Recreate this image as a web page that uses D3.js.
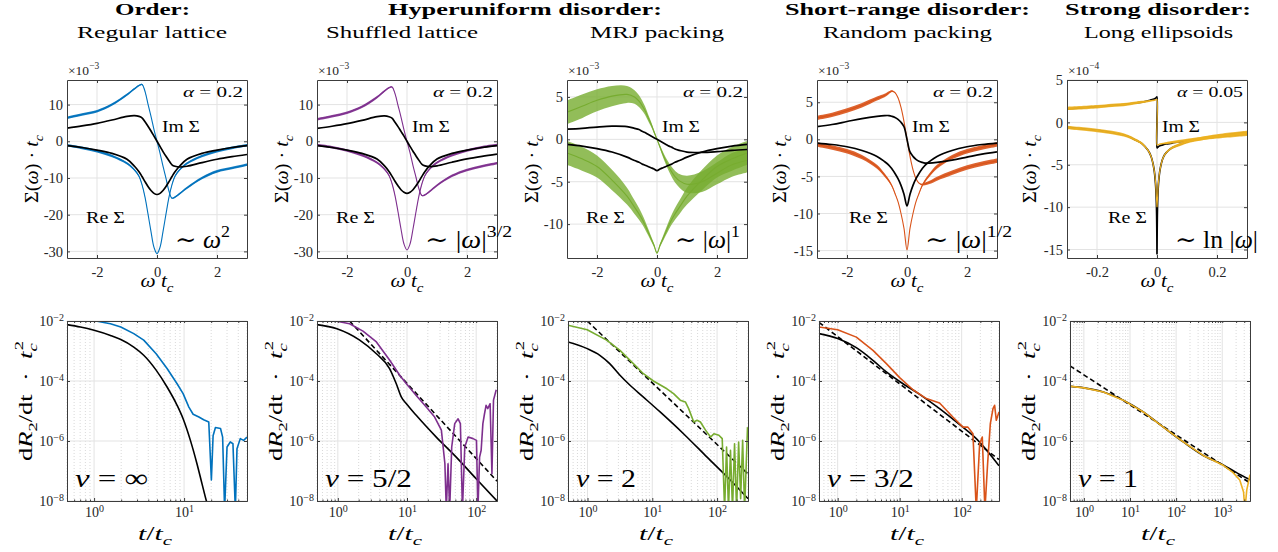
<!DOCTYPE html>
<html><head><meta charset="utf-8">
<script src="https://cdn.jsdelivr.net/npm/d3@7/dist/d3.min.js"></script>
<style>html,body{margin:0;padding:0;background:#fff;}svg{display:block;}</style>
</head><body>
<script>
// ================= DATA =================
const groupTitles = ["Order:", "Hyperuniform disorder:", "Short-range disorder:", "Strong disorder:"];
const subTitles = ["Regular lattice", "Shuffled lattice", "MRJ packing", "Random packing", "Long ellipsoids"];

// top row: self-energy vs omega*t_c
const omegaGrid = [-3,-2.5,-2,-1.5,-1,-0.75,-0.6,-0.5,-0.4,-0.3,-0.2,-0.1,0,0.1,0.2,0.3,0.4,0.5,0.6,0.75,1,1.5,2,2.5,3];
const omegaTicks = [-2,0,2];

const latticeImSim = [6.4,7.3,8.2,10.0,12.7,14.3,15.2,15.5,13.6,10.1,6.8,3.2,0,-3.2,-6.8,-10.1,-13.6,-15.5,-15.2,-14.3,-12.7,-10.0,-8.2,-7.3,-6.4];
const latticeReSim = [-1.1,-1.8,-2.7,-4.0,-6.0,-7.8,-9.5,-11.8,-15.2,-19.8,-24.6,-28.9,-30.6,-28.9,-24.6,-19.8,-15.2,-11.8,-9.5,-7.8,-6.0,-4.0,-2.7,-1.8,-1.1];
const latticeImTh = [3.6,4.2,4.9,5.8,6.8,7.0,6.8,6.4,5.3,4.1,2.8,1.4,0,-1.4,-2.8,-4.1,-5.3,-6.4,-6.8,-7.0,-6.8,-5.8,-4.9,-4.2,-3.6];
const latticeReTh = [-1.2,-1.7,-2.4,-3.3,-4.9,-6.8,-8.3,-9.6,-11.0,-12.3,-13.4,-14.2,-14.5,-14.2,-13.4,-12.3,-11.0,-9.6,-8.3,-6.8,-4.9,-3.3,-2.4,-1.7,-1.2];
const latticeNoise = [0.35,0.35,0.35,0.35,0.32,0.28,0.22,0.15,0.08,0.04,0,0,0,0,0,0.04,0.08,0.15,0.22,0.28,0.32,0.35,0.35,0.35,0.35];
const latticeYTicks = [-30,-20,-10,0,10];

const shuffledImSim = [6.0,6.8,7.8,9.4,12.0,13.7,14.6,14.8,13.0,9.8,6.6,3.1,0,-3.1,-6.6,-9.8,-13.0,-14.8,-14.6,-13.7,-12.0,-9.4,-7.8,-6.8,-6.0];
const shuffledReSim = [-1.0,-1.6,-2.5,-3.8,-5.8,-7.6,-9.3,-11.5,-14.8,-19.2,-23.9,-28.0,-29.6,-28.0,-23.9,-19.2,-14.8,-11.5,-9.3,-7.6,-5.8,-3.8,-2.5,-1.6,-1.0];
const shuffledImTh = [3.5,4.1,4.8,5.7,6.7,6.9,6.7,6.3,5.2,4.0,2.7,1.4,0,-1.4,-2.7,-4.0,-5.2,-6.3,-6.7,-6.9,-6.7,-5.7,-4.8,-4.1,-3.5];
const shuffledReTh = [-1.2,-1.7,-2.4,-3.3,-4.8,-6.7,-8.2,-9.5,-10.9,-12.1,-13.2,-13.9,-14.2,-13.9,-13.2,-12.1,-10.9,-9.5,-8.2,-6.7,-4.8,-3.3,-2.4,-1.7,-1.2];
const shuffledNoise = [0.35,0.35,0.35,0.35,0.32,0.28,0.22,0.15,0.08,0.04,0,0,0,0,0,0.04,0.08,0.15,0.22,0.28,0.32,0.35,0.35,0.35,0.35];
const shuffledYTicks = [-30,-20,-10,0,10];

const mrjImSim = [3.2,3.9,4.6,5.1,5.3,5.0,4.5,4.0,3.4,2.6,1.8,0.9,0,-0.9,-1.8,-2.6,-3.3,-3.9,-4.4,-4.9,-5.3,-5.0,-4.0,-3.0,-2.5];
const mrjReSim = [-1.6,-2.3,-3.2,-4.8,-6.7,-8.0,-8.8,-9.4,-10.1,-10.9,-11.7,-12.5,-13.4,-12.5,-11.7,-10.9,-10.1,-9.4,-8.8,-8.0,-6.7,-4.8,-3.2,-2.3,-1.6];
const mrjImTh = [1.2,1.3,1.45,1.55,1.5,1.3,1.15,0.95,0.8,0.6,0.4,0.2,0,-0.2,-0.4,-0.6,-0.8,-0.95,-1.15,-1.3,-1.5,-1.55,-1.45,-1.3,-1.2];
const mrjReTh = [-0.6,-0.8,-1.1,-1.5,-2.1,-2.5,-2.7,-2.9,-3.05,-3.2,-3.35,-3.5,-3.7,-3.5,-3.35,-3.2,-3.05,-2.9,-2.7,-2.5,-2.1,-1.5,-1.1,-0.8,-0.6];
const mrjNoise = [1.4,1.4,1.3,1.2,1.0,0.8,0.7,0.6,0.5,0.4,0.3,0.2,0.1,0.2,0.3,0.4,0.5,0.6,0.7,0.8,1.0,1.2,1.3,1.4,1.4];
const mrjYTicks = [-10,-5,0,5];

const randImSim = [2.9,3.3,3.9,4.6,5.5,5.9,6.3,6.5,6.3,5.6,4.3,2.4,0,-2.3,-4.1,-5.3,-5.9,-6.1,-6.0,-5.8,-5.3,-4.5,-3.8,-3.3,-2.9];
const randReSim = [-0.7,-1.1,-1.6,-2.4,-3.7,-4.8,-5.6,-6.3,-7.3,-8.4,-10.0,-12.0,-14.9,-12.0,-10.0,-8.4,-7.3,-6.3,-5.6,-4.8,-3.7,-2.4,-1.6,-1.1,-0.7];
const randImTh = [1.7,2.0,2.4,2.8,3.1,3.2,3.2,3.1,2.95,2.7,2.3,1.7,0,-1.7,-2.3,-2.7,-2.95,-3.1,-3.2,-3.2,-3.1,-2.8,-2.4,-2.0,-1.7];
const randReTh = [-0.5,-0.7,-1.0,-1.5,-2.3,-3.0,-3.5,-4.0,-4.6,-5.3,-6.2,-7.4,-9.0,-7.4,-6.2,-5.3,-4.6,-4.0,-3.5,-3.0,-2.3,-1.5,-1.0,-0.7,-0.5];
const randNoise = [0.3,0.3,0.3,0.3,0.27,0.23,0.18,0.12,0.06,0.03,0,0,0,0,0,0.03,0.06,0.12,0.18,0.23,0.27,0.3,0.3,0.3,0.3];
const randYTicks = [-15,-10,-5,0,5];

const omegaEll = [-0.3,-0.2,-0.15,-0.1,-0.07,-0.05,-0.03,-0.02,-0.01,-0.005,-0.002,0,0,0.002,0.005,0.01,0.02,0.03,0.05,0.07,0.1,0.15,0.2,0.3];
const omegaEllTicks = [-0.2,0,0.2];
const ellImSim = [1.65,1.85,2.0,2.15,2.3,2.4,2.5,2.55,2.6,2.65,2.7,2.7,-2.7,-2.65,-2.6,-2.55,-2.5,-2.45,-2.35,-2.25,-2.1,-1.9,-1.7,-1.4];
const ellReSim = [-0.6,-0.95,-1.2,-1.6,-2.1,-2.5,-3.3,-4.0,-5.5,-7.0,-8.8,-10.0,-10.0,-8.8,-7.0,-5.6,-4.2,-3.6,-3.0,-2.7,-2.3,-1.9,-1.6,-1.2];
const ellImTh = [1.6,1.85,2.0,2.15,2.3,2.4,2.55,2.65,2.75,2.85,2.95,3.0,-3.0,-2.95,-2.85,-2.75,-2.65,-2.55,-2.45,-2.3,-2.15,-1.9,-1.7,-1.4];
const ellReTh = [-0.6,-0.95,-1.2,-1.6,-2.1,-2.5,-3.3,-4.0,-5.5,-7.2,-9.5,-15.5,-15.5,-9.5,-7.2,-5.6,-4.2,-3.6,-3.0,-2.7,-2.3,-1.9,-1.6,-1.2];
const ellNoise = [0.2,0.2,0.2,0.18,0.17,0.15,0.12,0.09,0.06,0.03,0,0,0,0,0.03,0.06,0.09,0.12,0.15,0.17,0.18,0.2,0.2,0.2];
const ellYTicks = [-15,-10,-5,0,5];

const alphaLabels = ["0.2","0.2","0.2","0.2","0.05"];
const scaleExponents = ["−3","−3","−3","−3","−4"];

// bottom row: dR2/dt * tc^2 vs t/tc
const rateYTicks = [1e-8,1e-6,1e-4,1e-2];
const latticeT = [0.9,1.08,1.52,1.98,2.76,3.56,4.89,6.47,8.36,9.75,11.3,12.6,14.6,16.5,18.8,20.1,21.0,22.3,25.4,26.8,28.2,30.0,32.6,34.9,37.1,38.7,42.1,45.9,50];
const latticeRate = [1.1e-2,9.8e-3,8.1e-3,6.3e-3,3.8e-3,2.3e-3,8.1e-4,2.6e-4,8.1e-5,3.8e-5,1.35e-5,7.8e-6,6.3e-6,5.1e-6,4.3e-6,5e-8,1.5e-6,2.8e-6,2.6e-6,1.35e-6,5e-9,6.3e-7,9.3e-7,8.1e-7,5e-9,5.5e-7,1.2e-6,1.05e-6,1.35e-6];
const latticeThT = [0.5,0.705,1,1.52,1.98,2.76,3.56,4.89,6.47,8.36,9.75,11.75,13.9,15.8,17.7,19];
const latticeThRate = [7.6e-3,6.3e-3,4.9e-3,3.3e-3,2.4e-3,1.35e-3,7.2e-4,2.3e-4,6.3e-5,1.55e-5,5.5e-6,1.05e-6,1.75e-7,3.8e-8,1e-8,5e-9];

const shuffledT = [0.9,0.97,1.48,2.31,3.61,5.63,7.84,9.8,13.6,19.0,25.1,31.4,35.3,37.0,39.2,41.4,44.3,49.0,54.8,59.1,63.3,68.4,76.5,90.3,101,106,112,118,125,132,139,147,159,169,178,195];
const shuffledRate = [1.1e-2,9.8e-3,8.1e-3,4.6e-3,2.0e-3,4.9e-4,1.55e-4,8.1e-5,3.3e-5,1.35e-5,6.3e-6,2.3e-6,1.75e-7,5e-9,1.75e-7,5e-9,6.3e-7,3.8e-6,5.5e-6,3.8e-6,5e-9,6.3e-7,1.35e-6,1.2e-6,1.05e-6,5e-9,2.9e-7,4.9e-7,3.8e-6,8.1e-6,1.55e-5,1.2e-5,1.75e-5,8.1e-8,2.3e-5,5.1e-5];
const shuffledThT = [0.5,0.97,2.07,3.61,5.6,7.0,8.3,9.8,13.6,26.5,51.5,100,200];
const shuffledThRate = [7.6e-3,5.5e-3,2.3e-3,8.1e-4,2.6e-4,8.1e-5,2.9e-5,1.75e-5,7.2e-6,1.35e-6,2.9e-7,5.5e-8,1.0e-8];
const shuffledFitT = [1.48,200];
const shuffledFitRate = [1e-2,4.6e-8];

const mrjT = [0.5,0.99,1.97,3.17,5.1,7.3,10.4,16.8,21.3,27.0,32.4,36.4,43.6,49.1,55.3,66.3,79.3,89.3,106.6,120,130.6,140,150,161,173,186,200,215,231,248,266,295];
const mrjRate = [7.2e-3,5.1e-3,2.3e-3,1.05e-3,3.8e-4,1.75e-4,1.0e-4,5.5e-5,3.8e-5,2.3e-5,2.0e-5,1.2e-5,4.3e-6,4.9e-6,4.3e-6,2.3e-6,1.35e-6,1.75e-6,1.55e-6,1.2e-6,5e-9,6.3e-7,5e-9,4.9e-7,5e-9,8.1e-7,5e-9,9.3e-7,1.2e-8,1.05e-6,5e-9,2.9e-6];
const mrjThT = [0.5,0.99,1.55,2.2,3.17,4.53,7.3,13.2,30.3,70,161,300];
const mrjThRate = [2.0e-3,1.2e-3,7.2e-4,3.8e-4,1.55e-4,7.2e-5,2.9e-5,9.3e-6,1.75e-6,2.9e-7,4.9e-8,1.2e-8];
const mrjFitT = [0.99,300];
const mrjFitRate = [1e-2,8e-8];

const randT = [0.5,1.0,2.0,3.71,6.1,10,16.4,27,44,72,105,126,152,172,195,215,237,262,290,320,340,362,400];
const randRate = [6.3e-3,5.1e-3,2.9e-3,1.05e-3,3.8e-4,1.3e-4,5.1e-5,2.6e-5,1.85e-5,6.3e-6,2.9e-6,2.9e-6,1.75e-6,5e-9,8.1e-7,1.35e-6,5e-9,1.75e-7,3.8e-6,1.2e-5,1.55e-5,4.9e-6,9.3e-6];
const randThT = [0.5,1,2.0,3.71,6.1,11.3,21,44,93,172,400];
const randThRate = [3.8e-3,2.6e-3,1.3e-3,4.9e-4,2.0e-4,8.1e-5,3.6e-5,1.2e-5,3.5e-6,1.2e-6,1.5e-7];
const randFitT = [0.5,400];
const randFitRate = [9e-3,2.4e-7];

const ellT = [0.52,1.0,2.64,7.14,19.4,52.7,143,387,1050,1700,2400,2900,3100,3400,4000];
const ellRate = [6.6e-5,5.9e-5,4.3e-5,2.3e-5,9.3e-6,2.9e-6,9.3e-7,3.3e-7,1.55e-7,9e-8,5e-8,2e-8,5e-9,2.3e-8,7.5e-8];
const ellThT = [0.52,1.0,2.64,7.14,19.4,52.7,143,387,1050,2000,4000];
const ellThRate = [6.6e-5,5.9e-5,4.3e-5,2.3e-5,9.3e-6,2.9e-6,9.3e-7,3.3e-7,1.6e-7,9e-8,5.1e-8];
const ellFitT = [0.5,4000];
const ellFitRate = [3.2e-4,4e-8];

const nuLabels = ["∞","5/2","2","3/2","1"];

// ================= LAYOUT / STYLE =================
const W = 1278, H = 552;
const FONT = "'Liberation Serif','DejaVu Serif',serif";
const BOXC = '#3c3c3c', TICKC = '#262626', GRIDC = '#e3e3e3', MGRIDC = '#cfcfcf';
const COLORS = ['#0072BD','#7E2F8E','#77AC30','#D95319','#EDB120'];
const PW = 180, PHT = 178, PHB = 180, TOPY = 80, BOTY = 321;
const topX = [67,317,567,817,1067];
const botX = [67,317,568,819,1070];

const svg = d3.select('body').append('svg').attr('width', W).attr('height', H);
const defs = svg.append('defs');

const I = t => ({t, i:true});
const SUB = (t, i) => ({t, sub:true, i});
const SUP = (t, i) => ({t, sup:true, i});

function mtext(parent, x, y, parts, size, opts = {}) {
  const t = parent.append('text').attr('x', x).attr('y', y)
    .attr('font-family', FONT).attr('font-size', size)
    .attr('fill', opts.fill || '#000').attr('text-anchor', opts.anchor || 'start');
  if (opts.weight) t.attr('font-weight', opts.weight);
  if (opts.len) t.attr('textLength', opts.len).attr('lengthAdjust', 'spacingAndGlyphs');
  if (opts.rotate) t.attr('transform', `rotate(-90,${x},${y})`);
  let shift = 0;
  parts.forEach(p => {
    const s = typeof p === 'string' ? {t: p} : p;
    let target = 0, fs = size;
    if (s.sub) { target = 0.28 * size; fs = 0.7 * size; }
    if (s.sup) { target = -0.45 * size; fs = 0.7 * size; }
    const ts = t.append('tspan').text(s.t).attr('font-size', fs);
    if (target !== shift) ts.attr('dy', target - shift);
    if (s.dx) ts.attr('dx', s.dx);
    shift = target;
    if (s.i) ts.attr('font-style', 'italic');
  });
  return t;
}

// ---- titles ----
const groupCx = [152.5, 525, 907.5, 1158], groupLen = [75, 274, 245, 186];
const subCx = [152, 402, 657, 907.5, 1158.5], subLen = [150, 152, 134, 169, 149];
groupTitles.forEach((s, i) => mtext(svg, groupCx[i], 15, [s], 17, {anchor:'middle', weight:'bold', len:groupLen[i]}));
subTitles.forEach((s, i) => mtext(svg, subCx[i], 37.5, [s], 17, {anchor:'middle', len:subLen[i]}));

function styleAxis(a, showText = true, fs = 14.5) {
  a.attr('font-family', FONT).attr('font-size', fs);
  a.select('.domain').attr('stroke', BOXC).attr('stroke-width', 1);
  a.selectAll('.tick line').attr('stroke', BOXC).attr('stroke-width', 1);
  a.selectAll('.tick text').attr('fill', TICKC);
  if (!showText) a.selectAll('.tick text').remove();
}

// ---- top row ----
const lawParts = [
  ['∼ ', I('ω'), SUP('2')],
  ['∼ |', I('ω'), '|', SUP('3/2')],
  ['∼ |', I('ω'), '|', SUP('1')],
  ['∼ |', I('ω'), '|', SUP('1/2')],
  ['∼ ln |', I('ω'), '|']
];
const lawLen = [55, 87, 65, 87, 83];
const reDx = [19, 19, 19, 32, 41];

const topPanels = [
  {w:omegaGrid, imSim:latticeImSim, reSim:latticeReSim, imTh:latticeImTh, reTh:latticeReTh, noise:latticeNoise, xDom:[-3,3], yDom:[-31.8,16.7], xTicks:omegaTicks, yTicks:latticeYTicks},
  {w:omegaGrid, imSim:shuffledImSim, reSim:shuffledReSim, imTh:shuffledImTh, reTh:shuffledReTh, noise:shuffledNoise, xDom:[-3,3], yDom:[-31.8,16.7], xTicks:omegaTicks, yTicks:shuffledYTicks},
  {w:omegaGrid, imSim:mrjImSim, reSim:mrjReSim, imTh:mrjImTh, reTh:mrjReTh, noise:mrjNoise, xDom:[-3,3], yDom:[-14,7], xTicks:omegaTicks, yTicks:mrjYTicks},
  {w:omegaGrid, imSim:randImSim, reSim:randReSim, imTh:randImTh, reTh:randReTh, noise:randNoise, xDom:[-3,3], yDom:[-16,8], xTicks:omegaTicks, yTicks:randYTicks},
  {w:omegaEll, imSim:ellImSim, reSim:ellReSim, imTh:ellImTh, reTh:ellReTh, noise:ellNoise, xDom:[-0.3,0.3], yDom:[-16,5], xTicks:omegaEllTicks, yTicks:ellYTicks, simOnTop:true}
];

topPanels.forEach((p, k) => {
  const x0 = topX[k], y0 = TOPY, color = COLORS[k];
  const xs = d3.scaleLinear().domain(p.xDom).range([x0, x0 + PW]);
  const ys = d3.scaleLinear().domain(p.yDom).range([y0 + PHT, y0]);
  const g = svg.append('g');
  g.selectAll('line.gx').data(p.xTicks).join('line').attr('class','gx')
    .attr('x1', d => xs(d)).attr('x2', d => xs(d)).attr('y1', y0).attr('y2', y0 + PHT)
    .attr('stroke', GRIDC).attr('stroke-width', 1);
  g.selectAll('line.gy').data(p.yTicks).join('line').attr('class','gy')
    .attr('y1', d => ys(d)).attr('y2', d => ys(d)).attr('x1', x0).attr('x2', x0 + PW)
    .attr('stroke', GRIDC).attr('stroke-width', 1);
  const cid = 'clipT' + k;
  defs.append('clipPath').attr('id', cid).append('rect').attr('x', x0).attr('y', y0).attr('width', PW).attr('height', PHT);
  const pg = g.append('g').attr('clip-path', `url(#${cid})`);
  const curve = d3.curveCatmullRom.alpha(0.5);
  const line = d3.line().x(d => xs(d[0])).y(d => ys(d[1])).curve(curve);
  const band = d3.area().x(d => xs(d[0])).y0(d => ys(d[1] - d[2])).y1(d => ys(d[1] + d[2])).curve(curve);
  const zip = arr => p.w.map((w, i) => [w, arr[i], p.noise[i]]);
  const drawSim = () => [p.imSim, p.reSim].forEach(arr => {
    pg.append('path').attr('d', band(zip(arr))).attr('fill', color).attr('opacity', k === 2 ? 0.8 : 0.9);
    pg.append('path').attr('d', line(zip(arr))).attr('fill', 'none').attr('stroke', color).attr('stroke-width', 1.1);
  });
  const drawTh = () => [p.imTh, p.reTh].forEach(arr => {
    pg.append('path').attr('d', line(p.w.map((w, i) => [w, arr[i]]))).attr('fill', 'none')
      .attr('stroke', '#000').attr('stroke-width', 1.7).attr('stroke-linejoin', 'round');
  });
  if (p.simOnTop) { drawTh(); drawSim(); } else { drawSim(); drawTh(); }

  const fmt = d => String(d);
  styleAxis(g.append('g').attr('transform', `translate(0,${y0 + PHT})`)
    .call(d3.axisBottom(xs).tickValues(p.xTicks).tickSizeInner(-3).tickSizeOuter(0).tickPadding(9).tickFormat(fmt)));
  styleAxis(g.append('g').attr('transform', `translate(0,${y0})`)
    .call(d3.axisTop(xs).tickValues(p.xTicks).tickSizeInner(-3).tickSizeOuter(0).tickFormat(fmt)), false);
  styleAxis(g.append('g').attr('transform', `translate(${x0},0)`)
    .call(d3.axisLeft(ys).tickValues(p.yTicks).tickSizeInner(-3).tickSizeOuter(0).tickPadding(4).tickFormat(fmt)));
  styleAxis(g.append('g').attr('transform', `translate(${x0 + PW},0)`)
    .call(d3.axisRight(ys).tickValues(p.yTicks).tickSizeInner(-3).tickSizeOuter(0).tickFormat(fmt)), false);

  // exponent multiplier
  mtext(g, x0 + 1, 75, ['×10', SUP(scaleExponents[k])], 13.5, {fill: TICKC});
  // annotations
  mtext(g, x0 + PW - 4, 97, [I('α'), ' = ' + alphaLabels[k]], 15.5, {anchor:'end', len: k === 4 ? 66 : 60});
  mtext(g, x0 + 95, 132, ['Im Σ'], 17.5, {len: 38});
  mtext(g, x0 + reDx[k], 223, ['Re Σ'], 17.5, {len: 39});
  mtext(g, x0 + 108, 248, lawParts[k], 25, {len: lawLen[k]});
  // axis labels
  mtext(g, x0 + 90, 287, [I('ω'), ' ', I('t'), SUB('c', true)], 19, {anchor:'middle', len: 33});
  mtext(g, x0 - (k >= 3 ? 31 : 29), y0 + 89, ['Σ(', I('ω'), ') · ', I('t'), SUB('c', true)], 19, {anchor:'middle', rotate:true, len: 68});
});

// ---- bottom row ----
const botPanels = [
  {tDom:[0.5,50], xMajor:[1,10], simT:latticeT, sim:latticeRate, thT:latticeThT, th:latticeThRate},
  {tDom:[0.5,200], xMajor:[1,10,100], simT:shuffledT, sim:shuffledRate, thT:shuffledThT, th:shuffledThRate, fitT:shuffledFitT, fit:shuffledFitRate},
  {tDom:[0.5,300], xMajor:[1,10,100], simT:mrjT, sim:mrjRate, thT:mrjThT, th:mrjThRate, fitT:mrjFitT, fit:mrjFitRate},
  {tDom:[0.5,400], xMajor:[1,10,100], simT:randT, sim:randRate, thT:randThT, th:randThRate, fitT:randFitT, fit:randFitRate},
  {tDom:[0.5,4000], xMajor:[1,10,100,1000], simT:ellT, sim:ellRate, thT:ellThT, th:ellThRate, fitT:ellFitT, fit:ellFitRate}
];
const nuLen = [73, 87, 60, 87, 60];

function expLabels(a) {
  a.selectAll('.tick text').each(function(d) {
    const e = Math.round(Math.log10(d));
    const t = d3.select(this);
    t.text('10');
    t.append('tspan').attr('dy', '-0.5em').attr('font-size', 10).text(e < 0 ? '−' + (-e) : String(e));
  });
}

botPanels.forEach((p, k) => {
  const x0 = botX[k], y0 = BOTY, color = COLORS[k];
  const xs = d3.scaleLog().domain(p.tDom).range([x0, x0 + PW]);
  const ys = d3.scaleLog().domain([1e-8, 1e-2]).range([y0 + PHB, y0]);
  const g = svg.append('g');
  const minors = [];
  p.xMajor.concat([p.xMajor[0] / 10]).forEach(dec => {
    for (let m = 2; m <= 9; m++) { const v = m * dec; if (v > p.tDom[0] * 0.999 && v < p.tDom[1] * 1.001) minors.push(v); }
  });
  g.selectAll('line.mg').data(minors).join('line').attr('class','mg')
    .attr('x1', d => xs(d)).attr('x2', d => xs(d)).attr('y1', y0).attr('y2', y0 + PHB)
    .attr('stroke', MGRIDC).attr('stroke-width', 0.8).attr('stroke-dasharray', '1,2');
  g.selectAll('line.gx').data(p.xMajor).join('line').attr('class','gx')
    .attr('x1', d => xs(d)).attr('x2', d => xs(d)).attr('y1', y0).attr('y2', y0 + PHB)
    .attr('stroke', GRIDC).attr('stroke-width', 1);
  g.selectAll('line.gy').data(rateYTicks).join('line').attr('class','gy')
    .attr('y1', d => ys(d)).attr('y2', d => ys(d)).attr('x1', x0).attr('x2', x0 + PW)
    .attr('stroke', GRIDC).attr('stroke-width', 1);

  const cid = 'clipB' + k;
  defs.append('clipPath').attr('id', cid).append('rect').attr('x', x0).attr('y', y0).attr('width', PW).attr('height', PHB);
  const pg = g.append('g').attr('clip-path', `url(#${cid})`);
  const line = d3.line().x(d => xs(d[0])).y(d => ys(d[1]));
  const smooth = d3.line().x(d => xs(d[0])).y(d => ys(d[1])).curve(d3.curveMonotoneX);
  pg.append('path').attr('d', smooth(p.thT.map((t, i) => [t, p.th[i]]))).attr('fill', 'none').attr('stroke', '#000').attr('stroke-width', 1.6);
  if (p.fitT) pg.append('path').attr('d', line(p.fitT.map((t, i) => [t, p.fit[i]]))).attr('fill', 'none')
    .attr('stroke', '#000').attr('stroke-width', 1.6).attr('stroke-dasharray', '5,3');
  pg.append('path').attr('d', line(p.simT.map((t, i) => [t, p.sim[i]]))).attr('fill', 'none')
    .attr('stroke', color).attr('stroke-width', 1.6).attr('stroke-linejoin', 'round');

  const ab = g.append('g').attr('transform', `translate(0,${y0 + PHB})`)
    .call(d3.axisBottom(xs).tickValues(p.xMajor).tickSizeInner(-3).tickSizeOuter(0).tickPadding(6).tickFormat(() => '10'));
  styleAxis(ab, true, 14); expLabels(ab);
  styleAxis(g.append('g').attr('transform', `translate(0,${y0 + PHB})`)
    .call(d3.axisBottom(xs).tickValues(minors).tickSizeInner(-1.5).tickSizeOuter(0).tickFormat(() => '')), false);
  styleAxis(g.append('g').attr('transform', `translate(0,${y0})`)
    .call(d3.axisTop(xs).tickValues(p.xMajor.concat(minors)).tickSizeInner(-2).tickSizeOuter(0).tickFormat(() => '')), false);
  const al = g.append('g').attr('transform', `translate(${x0},0)`)
    .call(d3.axisLeft(ys).tickValues(rateYTicks).tickSizeInner(-3).tickSizeOuter(0).tickPadding(3).tickFormat(() => '10'));
  styleAxis(al, true, 14); expLabels(al);
  styleAxis(g.append('g').attr('transform', `translate(${x0 + PW},0)`)
    .call(d3.axisRight(ys).tickValues(rateYTicks).tickSizeInner(-3).tickSizeOuter(0).tickFormat(() => '')), false);

  mtext(g, x0 + 8, 487, [I('ν'), ' = ' + nuLabels[k]], 26, {len: nuLen[k]});
  mtext(g, x0 + 88, 540, [I('t'), '/', I('t'), SUB('c', true)], 19, {anchor:'middle', len: 34});
  mtext(g, x0 - 35, y0 + 80, ['d', I('R'), SUB('2'), '/d', 't', '\u2002·\u2002', I('t'), SUB('c', true), {t:'2', sup:true, dx:-5}], 19, {anchor:'middle', rotate:true, len: 120});
});
</script>
</body></html>
